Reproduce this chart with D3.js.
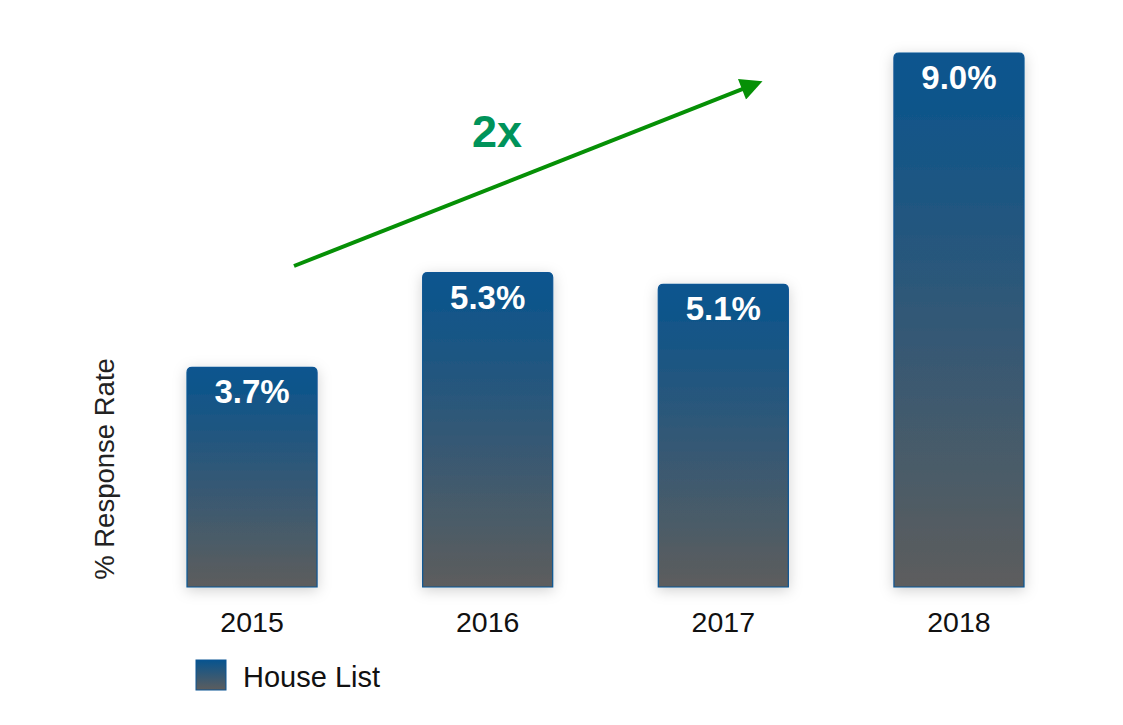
<!DOCTYPE html>
<meta charset="utf-8">
<title>House List Response Rate</title>
<style>
  body { margin: 0; background: #fff; }
  svg { display: block; }
  text { font-family: "Liberation Sans", Arial, sans-serif; }
  .year { font-size: 28.5px; fill: #111; }
  .value { font-size: 33px; font-weight: bold; fill: #fff; }
</style>
<svg width="1123" height="725"></svg>
<script src="https://cdn.jsdelivr.net/npm/d3@7"></script>
<script>
  var years = ["2015", "2016", "2017", "2018"];
  var rates = [3.7, 5.3, 5.1, 9.0];
  var labels = ["3.7%", "5.3%", "5.1%", "9.0%"];
  var seriesName = "House List";

  var svg = d3.select("svg");

  var x = d3.scaleBand()
    .domain(years)
    .range([187, 1024])
    .paddingInner(0.448)
    .paddingOuter(0);

  var y = d3.scaleLinear()
    .domain([0, 9])
    .range([587, 53]);

  var defs = svg.append("defs");

  var grad = defs.append("linearGradient")
    .attr("id", "barGrad")
    .attr("x1", 0).attr("y1", 0).attr("x2", 0).attr("y2", 1);
  grad.append("stop").attr("offset", "0%").attr("stop-color", "#07548f");
  grad.append("stop").attr("offset", "100%").attr("stop-color", "#5d5d5d");

  var shadow = defs.append("filter")
    .attr("id", "shadow")
    .attr("x", "-30%").attr("y", "-30%")
    .attr("width", "160%").attr("height", "160%");
  shadow.append("feDropShadow")
    .attr("dx", 0).attr("dy", 3)
    .attr("stdDeviation", 7)
    .attr("flood-color", "#000")
    .attr("flood-opacity", 0.18);

  defs.append("marker")
    .attr("id", "arrowHead")
    .attr("viewBox", "0 0 10 10")
    .attr("refX", 6).attr("refY", 5)
    .attr("markerWidth", 6.5).attr("markerHeight", 5.5)
    .attr("markerUnits", "strokeWidth")
    .attr("orient", "auto")
    .append("path")
    .attr("d", "M0,0L10,5L0,10Z")
    .attr("fill", "#069006");

  var data = years.map(function(d, i) {
    return { year: d, rate: rates[i], label: labels[i] };
  });

  // bar with rounded top corners only
  function barPath(d) {
    var x0 = x(d.year), x1 = x0 + x.bandwidth(),
      y0 = y(d.rate), y1 = y(0), r = 5;
    return "M" + x0 + "," + y1 +
      "V" + (y0 + r) +
      "Q" + x0 + "," + y0 + " " + (x0 + r) + "," + y0 +
      "H" + (x1 - r) +
      "Q" + x1 + "," + y0 + " " + x1 + "," + (y0 + r) +
      "V" + y1 + "Z";
  }

  var bars = svg.append("g").selectAll("g")
    .data(data)
    .enter().append("g");

  bars.append("path")
    .attr("d", barPath)
    .attr("fill", "url(#barGrad)")
    .attr("stroke", "#0b5594")
    .attr("stroke-width", 1.2)
    .attr("filter", "url(#shadow)");

  bars.append("text")
    .attr("class", "value")
    .attr("x", function(d) { return x(d.year) + x.bandwidth() / 2; })
    .attr("y", function(d) { return y(d.rate) + 36; })
    .attr("text-anchor", "middle")
    .text(function(d) { return d.label; });

  svg.append("g").selectAll("text")
    .data(data)
    .enter().append("text")
    .attr("class", "year")
    .attr("x", function(d) { return x(d.year) + x.bandwidth() / 2; })
    .attr("y", y(0) + 45)
    .attr("text-anchor", "middle")
    .text(function(d) { return d.year; });

  // y axis title
  svg.append("text")
    .attr("transform", "translate(114,469) rotate(-90)")
    .attr("text-anchor", "middle")
    .style("font-size", "27.5px")
    .style("fill", "#222")
    .text("% Response Rate");

  // trend arrow
  svg.append("line")
    .attr("x1", x("2015") + 107).attr("y1", y(5.41))
    .attr("x2", x("2017") + 96).attr("y2", y(8.47))
    .attr("stroke", "#069006")
    .attr("stroke-width", 4)
    .attr("marker-end", "url(#arrowHead)");

  svg.append("text")
    .attr("x", 497)
    .attr("y", 147)
    .attr("text-anchor", "middle")
    .style("font-size", "45px")
    .style("font-weight", "bold")
    .style("fill", "#00935a")
    .text("2x");

  // legend
  var legend = svg.append("g").attr("transform", "translate(196,660)");
  legend.append("rect")
    .attr("width", 30).attr("height", 30)
    .attr("fill", "url(#barGrad)")
    .attr("stroke", "#0b5594")
    .attr("stroke-width", 1);
  legend.append("text")
    .attr("x", 47).attr("y", 27)
    .style("font-size", "29px")
    .style("fill", "#111")
    .text(seriesName);
</script>
